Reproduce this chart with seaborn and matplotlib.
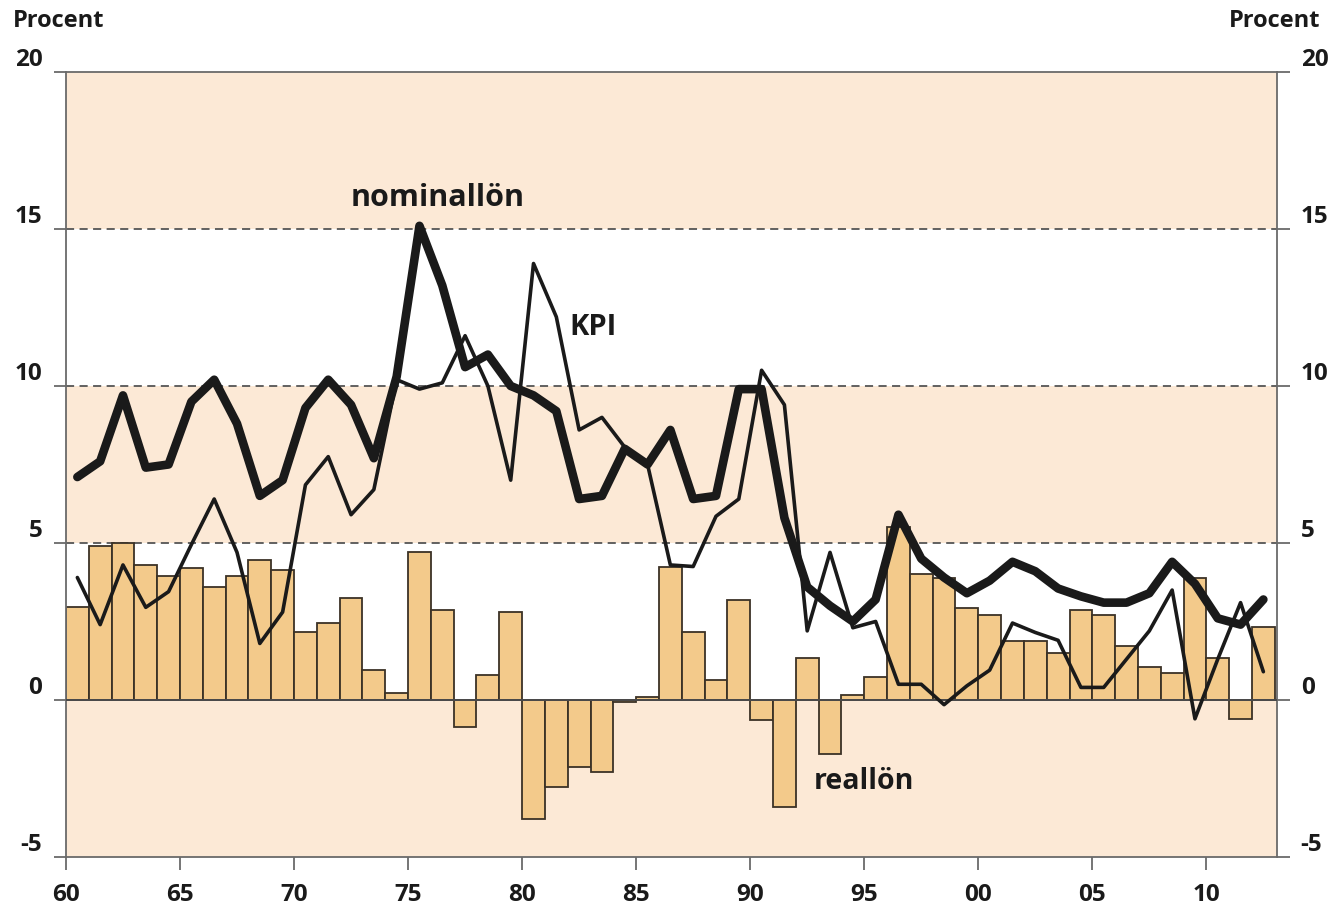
import numpy as np
import pandas as pd
import matplotlib
matplotlib.use("Agg")
import matplotlib.pyplot as plt
import seaborn as sns

# Data: yearly values 1960-2012, percent
years = list(range(1960, 2013))

nominallon = [7.1, 7.6, 9.7, 7.4, 7.5, 9.5, 10.2, 8.8, 6.5, 7.0,
              9.3, 10.2, 9.4, 7.7, 10.3, 15.1, 13.2, 10.6, 11.0, 10.0,
              9.7, 9.2, 6.4, 6.5, 8.0, 7.5, 8.6, 6.4, 6.5, 9.9,
              9.9, 5.8, 3.6, 3.0, 2.5, 3.2, 5.9, 4.5, 3.9, 3.4,
              3.8, 4.4, 4.1, 3.55, 3.3, 3.1, 3.1, 3.4, 4.4, 3.7,
              2.6, 2.4, 3.2]

kpi = [3.9, 2.4, 4.3, 2.95, 3.45, 4.95, 6.4, 4.7, 1.8, 2.8,
       6.85, 7.75, 5.9, 6.7, 10.2, 9.9, 10.1, 11.6, 10.0, 7.0,
       13.9, 12.2, 8.6, 9.0, 8.05, 7.5, 4.3, 4.25, 5.85, 6.4,
       10.5, 9.4, 2.2, 4.7, 2.3, 2.5, 0.5, 0.5, -0.15, 0.45,
       0.95, 2.45, 2.15, 1.9, 0.4, 0.4, 1.3, 2.2, 3.5, -0.6,
       1.3, 3.1, 0.9]

reallon = [2.95, 4.9, 5.0, 4.3, 3.95, 4.2, 3.6, 3.95, 4.45, 4.15,
           2.15, 2.45, 3.25, 0.95, 0.22, 4.7, 2.87, -0.86, 0.8, 2.8,
           -3.8, -2.77, -2.15, -2.28, -0.06, 0.08, 4.22, 2.15, 0.63, 3.18,
           -0.64, -3.4, 1.34, -1.71, 0.16, 0.72, 5.5, 4.0, 3.9, 2.94,
           2.7, 1.87, 1.88, 1.5, 2.87, 2.71, 1.72, 1.04, 0.86, 3.9,
           1.34, -0.62, 2.31]

xtick_years = list(range(1960, 2011, 5))
xtick_labels = ["60", "65", "70", "75", "80", "85", "90", "95", "00", "05", "10"]
ytick_values = [-5, 0, 5, 10, 15, 20]

df = pd.DataFrame({
    "mid": [y + 0.5 for y in years],
    "nominallon": nominallon,
    "kpi": kpi,
    "reallon": reallon,
})

sns.set_style("white")
plt.rcParams["font.family"] = ["Open Sans", "DejaVu Sans"]
plt.rcParams["font.weight"] = "bold"

peach = "#FCE9D6"
bar_color = "#F3CA8B"
dark = "#1a1a1a"
axis_gray = "#6a6a6a"

fig = plt.figure(figsize=(13.35, 9.11), dpi=100)
ax = fig.add_axes([0.0494, 0.0593, 0.9072, 0.8617])

# alternating background bands
for lo, hi in [(15, 20), (5, 10), (-5, 0)]:
    ax.axhspan(lo, hi, color=peach, zorder=0, lw=0)
for yv in [5, 10, 15]:
    ax.axhline(yv, color="#555555", lw=1.3, ls=(0, (4.5, 3)), zorder=1)

sns.barplot(data=df, x="mid", y="reallon", native_scale=True, width=1.0,
            color=bar_color, saturation=1, edgecolor="#3b3226", linewidth=1.3,
            zorder=2, ax=ax)
ax.axhline(0, color="#4a4a4a", lw=1.4, zorder=3)

sns.lineplot(data=df, x="mid", y="kpi", color=dark, lw=2.6, zorder=4, ax=ax)
sns.lineplot(data=df, x="mid", y="nominallon", color=dark, lw=6.2, zorder=5, ax=ax)

ax.set_xlim(1960, 2013.1)
ax.set_ylim(-5, 20)
ax.set_xlabel("")
ax.set_ylabel("")

ax.set_xticks(xtick_years)
ax.set_xticklabels(xtick_labels)
ax.set_yticks(ytick_values)
ax.set_yticklabels([str(v) for v in ytick_values])

ax.tick_params(axis="both", direction="out", length=9, width=1.3, color=axis_gray,
               labelsize=17.5, labelcolor=dark)
ax.tick_params(axis="y", left=True, right=True, labelleft=True, labelright=True, pad=8)
ax.tick_params(axis="x", bottom=True, pad=10)
for t in ax.yaxis.get_major_ticks():
    t.label1.set_va("bottom")
    t.label2.set_va("bottom")
    t.label1.set_fontweight("bold")
    t.label2.set_fontweight("bold")
for lbl in ax.get_xticklabels():
    lbl.set_fontweight("bold")

for side in ["left", "right", "top", "bottom"]:
    ax.spines[side].set_visible(True)
    ax.spines[side].set_color(axis_gray)
    ax.spines[side].set_linewidth(1.3)

# series labels
ax.text(1976.3, 16.0, "nominallön", fontsize=22, fontweight="bold", color=dark,
        ha="center", va="center", zorder=6)
ax.text(1983.1, 11.85, "KPI", fontsize=21, fontweight="bold", color=dark,
        ha="center", va="center", zorder=6)
ax.text(1995.0, -2.6, "reallön", fontsize=20.5, fontweight="bold", color=dark,
        ha="center", va="center", zorder=6)

fig.text(13 / 1335, 1 - 21 / 911, "Procent", fontsize=17, fontweight="bold",
         color=dark, ha="left", va="center")
fig.text(1320 / 1335, 1 - 21 / 911, "Procent", fontsize=17, fontweight="bold",
         color=dark, ha="right", va="center")

fig.savefig("out.png", dpi=100)
